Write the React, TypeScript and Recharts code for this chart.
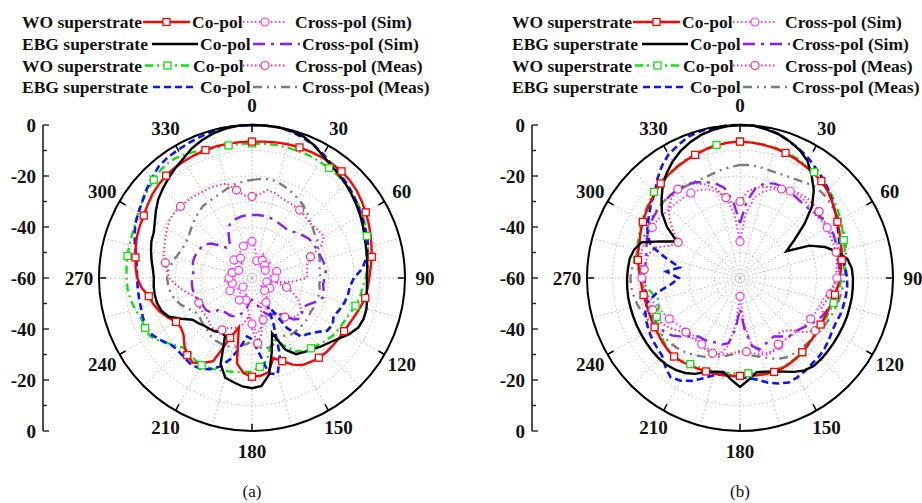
import React from 'react'
import { RadarChart, Radar, PolarGrid, PolarAngleAxis, PolarRadiusAxis } from 'recharts'

// angle categories, clockwise from broadside, 5 degree steps
const ANGLES = [
  0, 5, 10, 15, 20, 25, 30, 35, 40, 45, 50, 55,
  60, 65, 70, 75, 80, 85, 90, 95, 100, 105, 110, 115,
  120, 125, 130, 135, 140, 145, 150, 155, 160, 165, 170, 175,
  180, 185, 190, 195, 200, 205, 210, 215, 220, 225, 230, 235,
  240, 245, 250, 255, 260, 265, 270, 275, 280, 285, 290, 295,
  300, 305, 310, 315, 320, 325, 330, 335, 340, 345, 350, 355,
]
const GRID_ANGLES = [0, 15, 30, 45, 60, 75, 90, 105, 120, 135, 150, 165, 180, 195, 210, 225, 240, 255, 270, 285, 300, 315, 330, 345]
const DB_TICKS = [-60, -50, -40, -30, -20, -10, 0]
const SIDE_LABELS = ['0', '-20', '-40', '-60', '-40', '-20', '0']

// ---- (a) ----
const A_WO_CO_SIM = [
  -6.5, -6.3, -6.0, -5.7, -5.5, -5.4, -5.3, -5.3, -5.4, -5.8, -6.5, -7.5,
  -8.5, -9.5, -10.5, -11.5, -12.3, -13.3, -14.0, -14.5, -14.9, -16.0, -17.0, -17.8,
  -18.3, -18.5, -18.7, -18.8, -19.2, -19.8, -20.6, -22.5, -25.3, -27.5, -22.5, -21.5,
  -21.3, -22.5, -26.0, -40.0, -35.0, -24.0, -21.5, -19.5, -20.5, -22.5, -25.0, -26.0,
  -25.6, -23.5, -21.5, -20.0, -18.9, -16.5, -15.0, -14.2, -13.6, -12.8, -12.0, -11.5,
  -11.0, -10.0, -9.0, -8.2, -7.6, -7.2, -7.0, -6.8, -6.6, -6.5, -6.5, -6.5,
]
const A_EBG_CO_SIM = [
  0, 0, 0, -0.3, -1.0, -2.5, -4.5, -6.0, -7.0, -8.0, -9.0, -10.0,
  -11.0, -12.0, -13.0, -13.7, -14.2, -14.6, -14.9, -14.8, -14.2, -13.5, -13.4, -14.0,
  -16.0, -18.5, -20.5, -22.0, -23.5, -24.5, -25.5, -29.0, -37.0, -30.0, -21.5, -17.5,
  -16.8, -17.3, -18.5, -19.5, -24.0, -35.0, -35.5, -34.5, -34.0, -33.5, -32.5, -31.5,
  -28.0, -24.0, -22.3, -21.5, -21.3, -21.3, -21.5, -21.0, -20.0, -19.0, -18.0, -17.5,
  -16.0, -14.0, -12.0, -10.5, -9.0, -7.5, -6.0, -4.0, -2.5, -1.3, -0.5, 0,
]
const A_WO_CO_MEAS = [
  -7.2, -7.2, -7.0, -7.0, -7.0, -7.0, -7.2, -7.3, -7.6, -8.0, -8.5, -9.3,
  -10.0, -11.0, -12.0, -12.8, -13.5, -14.5, -15.5, -16.5, -17.0, -18.0, -19.2, -20.0,
  -20.5, -21.0, -22.0, -23.0, -24.0, -24.8, -27.0, -31.0, -34.0, -32.0, -27.0, -25.0,
  -23.3, -23.0, -22.5, -22.2, -21.5, -21.0, -20.5, -20.8, -22.0, -21.5, -19.5, -16.5,
  -14.0, -13.7, -13.8, -12.5, -11.6, -11.0, -10.8, -10.6, -10.4, -10.2, -10.0, -9.5,
  -8.5, -7.5, -6.5, -5.5, -4.5, -4.0, -4.5, -5.5, -6.5, -7.0, -7.2, -7.2,
]
const A_EBG_CO_MEAS = [
  0, 0, 0, -0.5, -1.5, -2.5, -4.0, -5.5, -6.5, -7.5, -8.5, -9.5,
  -10.5, -11.3, -12.0, -12.8, -14.5, -16.5, -20.0, -21.5, -21.8, -22.5, -23.5, -24.7,
  -23.5, -24.0, -27.0, -29.0, -30.0, -36.0, -48.0, -40.0, -28.0, -21.0, -22.0, -31.0,
  -36.0, -37.0, -32.0, -27.0, -23.0, -20.5, -19.0, -18.5, -19.0, -19.3, -19.0, -17.0,
  -15.0, -14.2, -14.5, -14.9, -15.0, -15.0, -15.0, -14.6, -14.0, -12.5, -11.0, -9.5,
  -8.6, -7.5, -6.0, -4.5, -3.0, -2.3, -2.0, -1.5, -1.0, -0.5, 0, 0,
]
const A_WO_X_SIM = [
  -45.6, -48, -51, -53, -52, -50, -52, -54, -55, -53, -51, -52,
  -54, -53, -51, -50, -52, -53, -51, -50, -52, -54, -53, -51,
  -52, -54, -55, -53, -51, -50, -49, -47, -45, -43, -40, -38,
  -42, -46, -49, -51, -53, -52, -50, -51, -53, -55, -54, -52,
  -50, -51, -53, -52, -50, -49, -51, -53, -54, -52, -50, -52,
  -54, -53, -51, -50, -52, -53, -51, -49, -48, -47, -46, -45.5,
]
const A_EBG_X_SIM = [
  -35.3, -35.2, -35.2, -35.3, -35.5, -36.0, -36.3, -36.5, -36.0, -35.0, -34.0, -33.0,
  -32.5, -32.3, -32.0, -31.5, -31.0, -31.0, -31.5, -32.0, -31.5, -31.0, -33.0, -35.5,
  -37.0, -36.0, -35.2, -37.0, -41.0, -43.2, -43.6, -43.8, -45.5, -47.5, -49.5, -51.0,
  -51.5, -51.0, -48.0, -46.0, -44.0, -43.4, -43.0, -43.0, -42.8, -42.7, -39.0, -38.0,
  -38.0, -37.8, -37.0, -36.4, -36.3, -36.3, -36.5, -36.9, -36.5, -36.0, -36.0, -36.3,
  -36.7, -37.0, -39.0, -42.0, -44.5, -45.0, -42.0, -38.0, -36.5, -36.0, -35.5, -35.3,
]
const A_WO_X_MEAS = [
  -28.0, -27.0, -25.0, -25.5, -26.5, -27.0, -27.3, -27.4, -28.0, -28.7, -28.5, -28.0,
  -27.3, -30.0, -35.6, -37.5, -38.0, -38.3, -38.5, -44.0, -50.0, -46.0, -42.9, -40.0,
  -38.0, -36.7, -37.0, -37.8, -40.0, -43.0, -46.0, -48.0, -50.0, -46.0, -38.0, -34.3,
  -40.0, -45.0, -42.0, -40.0, -39.0, -38.5, -36.5, -35.0, -35.0, -36.0, -36.5, -36.5,
  -36.5, -37.0, -37.0, -35.0, -32.5, -30.0, -27.5, -26.5, -25.5, -24.0, -23.5, -22.5,
  -21.5, -20.5, -20.2, -20.3, -20.5, -20.7, -21.0, -21.0, -21.3, -21.6, -25.0, -27.5,
]
const A_EBG_X_MEAS = [
  -21.5, -21.0, -20.6, -21.0, -22.0, -23.0, -24.0, -25.0, -26.5, -28.0, -29.0, -30.0,
  -30.5, -31.5, -32.0, -32.5, -33.0, -33.5, -33.0, -33.5, -33.0, -33.0, -33.5, -33.0,
  -33.5, -33.0, -33.0, -33.0, -33.0, -33.0, -34.0, -34.0, -33.0, -32.0, -31.7, -33.0,
  -35.0, -34.0, -33.0, -32.0, -31.5, -31.5, -31.6, -32.0, -33.0, -33.5, -34.0, -34.5,
  -34.0, -32.0, -30.0, -28.5, -27.5, -27.0, -26.7, -27.0, -28.0, -29.0, -30.0, -30.5,
  -30.5, -30.0, -29.0, -28.0, -27.0, -26.0, -25.5, -25.2, -24.5, -23.5, -22.5, -22.0,
]

// ---- (b) ----
const B_WO_CO_SIM = [
  -6.5, -6.7, -7.0, -7.3, -7.8, -8.5, -9.2, -9.8, -10.4, -11.5, -13.0, -14.5,
  -15.9, -17.0, -18.0, -18.7, -19.5, -20.3, -20.9, -21.5, -22.2, -22.8, -23.2, -23.4,
  -23.5, -23.3, -23.0, -22.6, -22.0, -21.5, -21.2, -20.9, -20.8, -21.0, -21.3, -21.5,
  -21.6, -21.5, -21.3, -21.2, -21.0, -20.8, -20.5, -20.0, -19.8, -20.0, -20.5, -21.0,
  -21.3, -21.6, -21.8, -21.8, -21.6, -21.3, -20.9, -20.2, -19.4, -18.7, -18.1, -17.0,
  -16.0, -15.0, -14.0, -12.8, -11.6, -10.8, -10.0, -9.3, -8.6, -7.8, -7.2, -6.7,
]
const B_EBG_CO_SIM = [
  0, 0, -0.8, -1.6, -3.0, -4.6, -7.0, -11.0, -15.0, -20.0, -27.0, -34.0,
  -39.0, -30.0, -24.5, -20.5, -17.2, -16.0, -15.7, -15.6, -15.5, -15.5, -15.4, -15.4,
  -15.4, -15.3, -15.2, -15.0, -15.0, -15.8, -17.5, -19.5, -21.0, -22.0, -22.5, -20.0,
  -17.3, -20.0, -22.6, -22.0, -20.8, -18.5, -17.0, -16.0, -15.4, -15.2, -15.2, -15.3,
  -15.4, -15.4, -15.5, -15.5, -15.5, -15.6, -15.7, -15.9, -16.1, -17.0, -19.0, -26.0,
  -31.4, -25.0, -20.0, -16.5, -12.8, -9.8, -7.2, -5.0, -3.2, -1.8, -0.9, -0.3,
]
const B_WO_CO_MEAS = [
  -6.5, -6.6, -6.8, -7.1, -7.5, -8.0, -8.7, -9.3, -9.8, -10.8, -12.0, -13.3,
  -14.5, -15.7, -16.7, -17.5, -18.3, -19.2, -20.0, -20.8, -21.5, -22.0, -22.5, -22.8,
  -23.0, -23.0, -22.8, -22.5, -22.0, -21.8, -21.5, -21.3, -21.3, -21.5, -22.0, -22.5,
  -22.8, -22.6, -22.3, -22.0, -21.8, -21.5, -21.0, -20.5, -20.0, -20.3, -21.0, -21.8,
  -22.5, -24.0, -26.0, -27.0, -25.0, -23.0, -21.0, -20.0, -19.0, -18.2, -17.5, -16.5,
  -15.5, -14.5, -13.5, -12.3, -11.2, -10.4, -9.8, -9.0, -8.3, -7.6, -7.0, -6.7,
]
const B_EBG_CO_MEAS = [
  0, 0, -0.5, -1.5, -3.0, -4.5, -6.0, -7.8, -9.3, -11.0, -12.8, -14.5,
  -16.0, -17.5, -18.6, -19.0, -19.0, -18.5, -18.0, -17.8, -17.9, -18.0, -18.1, -18.5,
  -18.3, -17.5, -16.8, -16.3, -16.1, -15.5, -15.0, -14.8, -16.0, -17.5, -19.5, -20.5,
  -21.2, -21.5, -21.7, -20.5, -18.2, -15.5, -13.5, -12.5, -14.5, -16.8, -17.5, -18.0,
  -18.7, -19.5, -20.5, -22.0, -27.0, -33.0, -36.0, -31.0, -36.0, -30.0, -22.7, -20.0,
  -18.2, -16.5, -14.5, -12.8, -9.5, -6.5, -4.0, -2.5, -1.0, -0.4, -0.2, 0,
]
const B_WO_X_SIM = [
  -45.7, -35.0, -28.0, -25.0, -23.0, -21.5, -20.6, -20.3, -20.5, -21.0, -21.5, -21.0,
  -20.5, -20.0, -19.5, -19.5, -20.0, -21.0, -22.0, -23.5, -25.0, -26.4, -27.0, -27.5,
  -28.0, -28.5, -29.0, -29.5, -30.0, -30.0, -29.5, -29.0, -28.7, -30.0, -33.0, -42.0,
  -52.8, -42.0, -33.0, -29.0, -28.8, -29.5, -30.0, -30.5, -31.0, -30.5, -30.0, -29.0,
  -28.0, -27.0, -26.0, -24.5, -23.0, -22.0, -21.5, -21.0, -20.5, -20.0, -20.0, -20.0,
  -20.3, -20.5, -21.0, -21.2, -21.4, -21.5, -21.5, -22.0, -23.0, -25.0, -28.0, -35.0,
]
const B_EBG_X_SIM = [
  -38.5, -30.0, -24.0, -21.5, -20.6, -20.5, -21.0, -21.5, -21.8, -21.7, -21.0, -20.0,
  -19.4, -19.5, -20.0, -20.5, -20.8, -20.9, -20.9, -21.5, -22.3, -22.8, -23.5, -24.5,
  -26.0, -27.5, -29.0, -30.0, -30.0, -32.0, -33.5, -33.0, -32.0, -31.0, -33.0, -40.0,
  -48.0, -40.0, -34.0, -33.0, -33.0, -32.5, -32.0, -32.0, -30.0, -27.5, -25.0, -23.5,
  -23.0, -22.5, -22.2, -22.3, -22.5, -22.7, -22.7, -22.6, -22.5, -22.0, -21.0, -20.0,
  -19.0, -18.5, -18.0, -17.8, -17.6, -17.5, -17.8, -18.6, -20.0, -21.5, -24.0, -30.0,
]
const B_WO_X_MEAS = [
  -30.0, -26.0, -24.0, -23.0, -22.0, -21.5, -20.5, -19.5, -19.0, -19.3, -19.5, -20.0,
  -20.5, -21.0, -21.0, -21.0, -21.5, -22.0, -22.5, -23.0, -24.0, -25.0, -26.0, -23.5,
  -22.5, -24.0, -27.0, -31.0, -33.0, -33.5, -30.0, -28.5, -28.0, -29.0, -30.0, -31.0,
  -31.5, -30.5, -29.5, -29.0, -28.6, -28.8, -29.5, -30.0, -30.0, -30.0, -28.0, -26.0,
  -24.5, -24.0, -23.5, -23.0, -22.5, -22.0, -22.0, -22.3, -22.5, -23.0, -25.0, -30.0,
  -32.0, -28.0, -24.0, -20.5, -18.5, -17.5, -18.0, -19.0, -21.0, -24.0, -28.0, -31.0,
]
const B_EBG_X_MEAS = [
  -15.7, -15.5, -15.8, -16.2, -16.3, -16.0, -15.5, -14.5, -13.6, -13.6, -14.0, -14.5,
  -15.0, -15.3, -16.0, -17.0, -18.0, -18.5, -19.0, -19.5, -20.0, -20.5, -21.0, -21.5,
  -22.0, -22.5, -23.0, -23.3, -23.5, -23.6, -24.0, -25.0, -26.5, -28.0, -29.0, -30.0,
  -31.0, -30.0, -29.0, -28.0, -27.0, -26.0, -25.0, -24.0, -23.2, -22.8, -22.5, -22.0,
  -21.5, -20.5, -19.5, -18.5, -17.8, -17.2, -17.0, -17.5, -18.0, -18.5, -19.0, -19.0,
  -18.5, -18.0, -17.8, -17.6, -17.7, -18.0, -18.2, -18.3, -18.3, -17.8, -17.0, -16.3,
]

const SERIES_KEYS = ['woXSim', 'woXMeas', 'ebgXMeas', 'ebgXSim', 'woCoMeas', 'ebgCoMeas', 'woCo', 'ebgCo'] as const

const buildRows = (woCo: number[], ebgCo: number[], woCoMeas: number[], ebgCoMeas: number[],
  woXSim: number[], ebgXSim: number[], woXMeas: number[], ebgXMeas: number[]) =>
  ANGLES.map((angle, i) => ({
    angle,
    woCo: woCo[i], ebgCo: ebgCo[i], woCoMeas: woCoMeas[i], ebgCoMeas: ebgCoMeas[i],
    woXSim: woXSim[i], ebgXSim: ebgXSim[i], woXMeas: woXMeas[i], ebgXMeas: ebgXMeas[i],
  }))

const rowsA = buildRows(A_WO_CO_SIM, A_EBG_CO_SIM, A_WO_CO_MEAS, A_EBG_CO_MEAS, A_WO_X_SIM, A_EBG_X_SIM, A_WO_X_MEAS, A_EBG_X_MEAS)
const rowsB = buildRows(B_WO_CO_SIM, B_EBG_CO_SIM, B_WO_CO_MEAS, B_EBG_CO_MEAS, B_WO_X_SIM, B_EBG_X_SIM, B_WO_X_MEAS, B_EBG_X_MEAS)

type Style = { color: string; width: number; dash?: string; marker?: 'square' | 'circle' }
const STYLES: Record<string, Style> = {
  woCo: { color: '#ff0000', width: 2.4, marker: 'square' },
  ebgCo: { color: '#000000', width: 2.4 },
  woCoMeas: { color: '#10e010', width: 2.4, dash: '8 4 2 4', marker: 'square' },
  ebgCoMeas: { color: '#0a14ff', width: 2.6, dash: '7 4' },
  woXSim: { color: '#ff33ff', width: 2, dash: '1.5 2.5', marker: 'circle' },
  ebgXSim: { color: '#8a1cff', width: 2.4, dash: '12 6 3 6' },
  woXMeas: { color: '#ff2a8a', width: 2, dash: '1.5 2.5', marker: 'circle' },
  ebgXMeas: { color: '#7c7c7c', width: 2.4, dash: '9 5 2 5 2 5' },
}

const MARK_EVERY_A: Record<string, number> = { woCo: 4, woCoMeas: 7, woXSim: 3, woXMeas: 7 }
const MARK_EVERY_B: Record<string, number> = { woCo: 4, woCoMeas: 7, woXSim: 6, woXMeas: 5 }

const R = 153
const CY = 278
const SERIF = "'Liberation Serif', 'Times New Roman', serif"

const markerFor = (s: Style, every: number) => (p: any) => {
  const k = `m-${p.index}`
  if (!s.marker || p.index % every !== 0) return <g key={k} />
  if (s.marker === 'square')
    return <rect key={k} x={p.cx - 3.5} y={p.cy - 3.5} width={7} height={7} fill="#fff" stroke={s.color} strokeWidth={1.3} />
  return <circle key={k} cx={p.cx} cy={p.cy} r={4} fill="#fff" stroke={s.color} strokeWidth={1.2} />
}

const angleTick = (cx: number) => (p: any) => {
  const v = p.payload?.value
  if (v % 30 !== 0) return <g />
  const a = ((90 - v) * Math.PI) / 180
  const c = Math.cos(a)
  const s = Math.sin(a)
  const lr = 173
  return (
    <g>
      <line x1={cx + R * c} y1={CY - R * s} x2={cx + (R - 7) * c} y2={CY - (R - 7) * s} stroke="#000" strokeWidth={1.5} />
      <text x={cx + lr * c} y={CY - lr * s} textAnchor="middle" dominantBaseline="central"
        fontFamily={SERIF} fontWeight="bold" fontSize={19} fill="#111">{v}</text>
    </g>
  )
}

function SideAxis({ x }: { x: number }) {
  const top = CY - R
  const step = R / 6
  const ticks = Array.from({ length: 13 }, (_, i) => i)
  return (
    <g>
      <line x1={x} y1={top} x2={x} y2={top + 2 * R} stroke="#222" strokeWidth={1.6} />
      {ticks.map(i => (
        <line key={i} x1={x} y1={top + i * step} x2={x + (i % 2 === 0 ? 6 : 4)} y2={top + i * step} stroke="#222" strokeWidth={1.4} />
      ))}
      {SIDE_LABELS.map((t, i) => (
        <text key={t + i} x={x - 7} y={top + i * 2 * step} textAnchor="end" dominantBaseline="central"
          fontFamily={SERIF} fontWeight="bold" fontSize={19} fill="#111">{t}</text>
      ))}
    </g>
  )
}

function Panel({ data, left, cx, axisX, markEvery, caption }: any) {
  return (
    <div style={{ position: 'absolute', left, top: 0, width: 461, height: 503 }}>
      <RadarChart width={461} height={503} cx={cx} cy={CY} outerRadius={R} data={data}
        startAngle={90} endAngle={-270} margin={{ top: 0, right: 0, bottom: 0, left: 0 }}>
        <PolarGrid gridType="circle" polarAngles={GRID_ANGLES} stroke="#bdbdbd" strokeDasharray="1.5 2.5" strokeWidth={1} />
        <PolarRadiusAxis type="number" domain={[-60, 0]} ticks={DB_TICKS} tick={false} axisLine={false} />
        <PolarAngleAxis dataKey="angle" tick={angleTick(cx)} tickLine={false} axisLineType="circle"
          axisLine={{ stroke: '#000', strokeWidth: 2 }} />
        {SERIES_KEYS.map(k => {
          const s = STYLES[k]
          return (
            <Radar key={k} dataKey={k} stroke={s.color} strokeWidth={s.width} strokeDasharray={s.dash}
              fill="none" fillOpacity={0} isAnimationActive={false}
              dot={s.marker ? markerFor(s, markEvery[k] ?? 4) : false} activeDot={false} />
          )
        })}
      </RadarChart>
      <svg width={461} height={503} style={{ position: 'absolute', left: 0, top: 0, pointerEvents: 'none' }}>
        <SideAxis x={axisX} />
        <text x={cx} y={491} textAnchor="middle" dominantBaseline="central" fontFamily={SERIF} fontSize={17} fill="#111">{caption}</text>
      </svg>
    </div>
  )
}

// legend rows: group label, co-pol key, cross-pol key, cross-pol label
const LEGEND_ROWS = [
  { group: 'WO superstrate', co: 'woCo', x: 'woXSim', xLabel: 'Cross-pol (Sim)' },
  { group: 'EBG superstrate', co: 'ebgCo', x: 'ebgXSim', xLabel: 'Cross-pol (Sim)' },
  { group: 'WO superstrate', co: 'woCoMeas', x: 'woXMeas', xLabel: 'Cross-pol (Meas)' },
  { group: 'EBG superstrate', co: 'ebgCoMeas', x: 'ebgXMeas', xLabel: 'Cross-pol (Meas)' },
]
// x positions per row: [co sample start, co sample end, "Co-pol", cross sample start, cross sample end, cross label]
const LEGEND_X = [
  [143, 190, 192, 243, 287, 295],
  [152, 198, 200, 253, 300, 302],
  [145, 190, 193, 243, 287, 295],
  [153, 197, 200, 253, 300, 302],
]
const LEGEND_Y = [28, 50, 71.5, 93]

function Sample({ k, x1, x2, y }: { k: string; x1: number; x2: number; y: number }) {
  const s = STYLES[k]
  const mid = (x1 + x2) / 2
  return (
    <g>
      <line x1={x1} y1={y} x2={x2} y2={y} stroke={s.color} strokeWidth={s.width} strokeDasharray={s.dash} />
      {s.marker === 'square' && <rect x={mid - 3.5} y={y - 3.5} width={7} height={7} fill="#fff" stroke={s.color} strokeWidth={1.3} />}
      {s.marker === 'circle' && <circle cx={mid} cy={y} r={4} fill="#fff" stroke={s.color} strokeWidth={1.2} />}
    </g>
  )
}

function LegendBlock({ left }: { left: number }) {
  const textProps = { fontFamily: SERIF, fontWeight: 'bold' as const, fontSize: 17.5, fill: '#111' }
  return (
    <svg width={440} height={100} style={{ position: 'absolute', left, top: 0 }}>
      {LEGEND_ROWS.map((row, i) => {
        const [c1, c2, cl, x1, x2, xl] = LEGEND_X[i]
        const y = LEGEND_Y[i]
        return (
          <g key={i}>
            <text x={22} y={y} {...textProps}>{row.group}</text>
            <Sample k={row.co} x1={c1} x2={c2} y={y - 6} />
            <text x={cl} y={y} {...textProps}>Co-pol</text>
            <Sample k={row.x} x1={x1} x2={x2} y={y - 6} />
            <text x={xl} y={y} {...textProps}>{row.xLabel}</text>
          </g>
        )
      })}
    </svg>
  )
}

export default function App() {
  return (
    <div style={{ position: 'absolute', left: 0, top: 0, width: 922, height: 503, background: '#fff', overflow: 'hidden' }}>
      <Panel data={rowsA} left={0} cx={252} axisX={43} markEvery={MARK_EVERY_A} caption="(a)" />
      <Panel data={rowsB} left={461} cx={279} axisX={71} markEvery={MARK_EVERY_B} caption="(b)" />
      <LegendBlock left={0} />
      <LegendBlock left={490} />
    </div>
  )
}
